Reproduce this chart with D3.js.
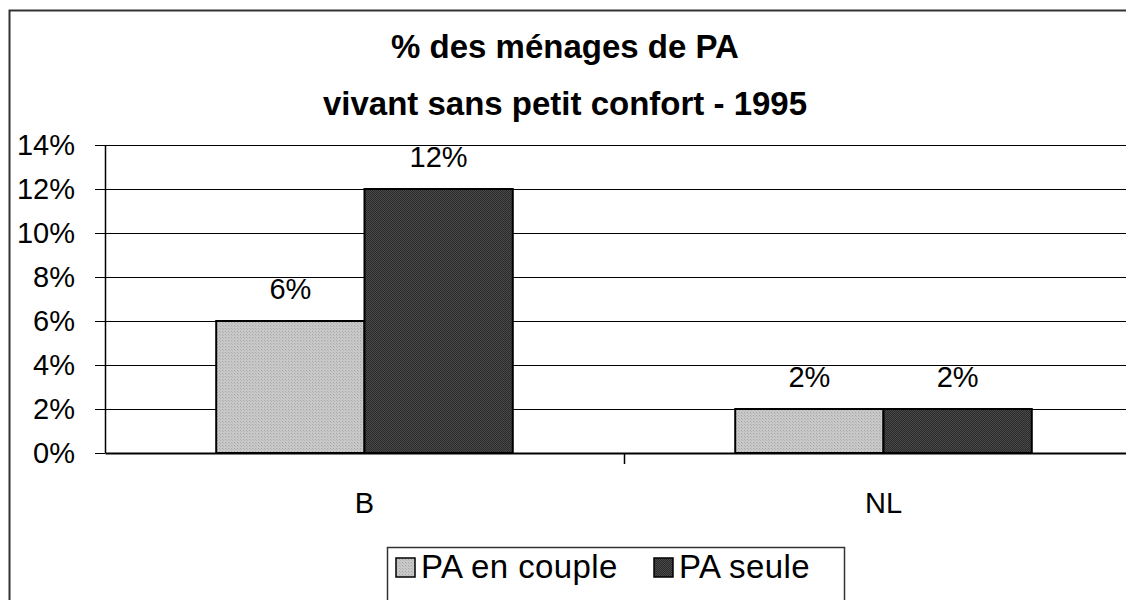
<!DOCTYPE html>
<html>
<head>
<meta charset="utf-8">
<script src="https://cdn.jsdelivr.net/npm/d3@7"></script>
<style>
  body { margin: 0; background: #fff; }
  text { font-family: Arial, "Liberation Sans", sans-serif; fill: #000; }
</style>
</head>
<body>
<div id="container"></div>
<script>
/* DATA */
const categories = ["B", "NL"];
const seriesNames = ["PA en couple", "PA seule"];
const coupleValues = [0.06, 0.02];
const seuleValues = [0.12, 0.02];
const yTicks = [0, 0.02, 0.04, 0.06, 0.08, 0.10, 0.12, 0.14];
const titleLines = ["% des ménages de PA", "vivant sans petit confort - 1995"];

/* CONSTANTS */
const width = 1126, height = 600,
      margin = {top: 145, bottom: 147, left: 105},
      plotWidth = 1038,
      innerHeight = height - margin.top - margin.bottom;
const FONT = "Arial, 'Liberation Sans', sans-serif";

const rows = categories.map((c, i) => ({cat: c, values: [coupleValues[i], seuleValues[i]]}));

const svg = d3.select("#container").append("svg")
  .attr("width", width).attr("height", height);

// patterns for the fills
const defs = svg.append("defs");
const pLight = defs.append("pattern").attr("id", "pLight")
  .attr("width", 3).attr("height", 3).attr("patternUnits", "userSpaceOnUse");
pLight.append("rect").attr("width", 3).attr("height", 3).attr("fill", "#c8c8c8");
pLight.append("rect").attr("x", 0).attr("y", 0).attr("width", 1).attr("height", 1).attr("fill", "#a8a8a8");
pLight.append("rect").attr("x", 1).attr("y", 1).attr("width", 1).attr("height", 1).attr("fill", "#b4b4b4");
const pDark = defs.append("pattern").attr("id", "pDark")
  .attr("width", 2).attr("height", 2).attr("patternUnits", "userSpaceOnUse");
pDark.append("rect").attr("width", 2).attr("height", 2).attr("fill", "#4a4a4a");
pDark.append("rect").attr("x", 0).attr("y", 0).attr("width", 1).attr("height", 1).attr("fill", "#2a2a2a");
pDark.append("rect").attr("x", 1).attr("y", 1).attr("width", 1).attr("height", 1).attr("fill", "#2a2a2a");
const fills = ["url(#pLight)", "url(#pDark)"];

// outer chart border (runs past right / bottom edge)
svg.append("rect")
  .attr("x", 9.5).attr("y", 10.5)
  .attr("width", width + 20).attr("height", height + 20)
  .attr("fill", "none").attr("stroke", "#333").attr("stroke-width", 2);

// title
svg.append("text")
  .attr("text-anchor", "middle")
  .attr("font-size", "33px").attr("font-weight", "bold")
  .selectAll("tspan").data(titleLines).join("tspan")
    .attr("x", 565).attr("y", (d, i) => 58 + i * 57)
    .text(d => d);

/* SCALES */
const xScale = d3.scaleBand()
  .domain(categories)
  .range([0, plotWidth]);

const xSub = d3.scaleBand()
  .domain([0, 1])
  .range([0, xScale.bandwidth()])
  .paddingInner(0).paddingOuter(0.75);

const yScale = d3.scaleLinear()
  .domain([0, 0.14])
  .range([innerHeight, 0]);

const g = svg.append("g").attr("transform", `translate(${margin.left},${margin.top})`);

// gridlines
g.append("g").selectAll("line").data(yTicks.slice(1)).join("line")
  .attr("x1", 0).attr("x2", plotWidth)
  .attr("y1", d => Math.round(yScale(d)) + 0.5).attr("y2", d => Math.round(yScale(d)) + 0.5)
  .attr("stroke", "#000").attr("stroke-width", 1);

// y axis
const yAxis = g.append("g")
  .call(d3.axisLeft(yScale).tickValues(yTicks).tickFormat(d3.format(".0%"))
    .tickSize(10).tickPadding(20).tickSizeOuter(0));
yAxis.select(".domain").attr("stroke", "#000").attr("stroke-width", 1.5);
yAxis.selectAll(".tick line").attr("stroke", "#000");
yAxis.selectAll(".tick text").attr("font-size", "29px").attr("font-family", FONT);

// bars
const groups = g.selectAll("g.cat").data(rows).join("g")
  .attr("class", "cat")
  .attr("transform", d => `translate(${xScale(d.cat)},0)`);

groups.selectAll("rect").data(d => d.values).join("rect")
  .attr("x", (d, i) => xSub(i))
  .attr("y", d => yScale(d))
  .attr("width", xSub.bandwidth())
  .attr("height", d => yScale(0) - yScale(d))
  .attr("fill", (d, i) => fills[i])
  .attr("stroke", "#000").attr("stroke-width", 2);

groups.selectAll("text.bar-label").data(d => d.values).join("text")
  .attr("class", "bar-label")
  .attr("x", (d, i) => xSub(i) + xSub.bandwidth() / 2)
  .attr("y", d => yScale(d) - 22)
  .attr("text-anchor", "middle")
  .attr("font-size", "29px")
  .text(d => d3.format(".0%")(d));

// x axis
const xAxis = g.append("g")
  .attr("transform", `translate(0,${innerHeight})`)
  .call(d3.axisBottom(xScale).tickSize(0).tickPadding(39).tickSizeOuter(0));
xAxis.select(".domain").attr("stroke", "#000").attr("stroke-width", 2);
xAxis.selectAll(".tick text").attr("font-size", "29px").attr("font-family", FONT);
xAxis.selectAll("line.sep").data(categories.slice(1)).join("line")
  .attr("class", "sep")
  .attr("x1", d => xScale(d) + 0.5).attr("x2", d => xScale(d) + 0.5)
  .attr("y1", 0).attr("y2", 11)
  .attr("stroke", "#000").attr("stroke-width", 1.5);

// legend
const legend = svg.append("g").attr("transform", "translate(387,547)");
legend.append("rect")
  .attr("x", 0.5).attr("y", 0.5).attr("width", 457).attr("height", 70)
  .attr("fill", "#fff").attr("stroke", "#333").attr("stroke-width", 1.5);
const legendX = [9, 267];
const items = legend.selectAll("g.item").data(seriesNames).join("g")
  .attr("class", "item")
  .attr("transform", (d, i) => `translate(${legendX[i]},0)`);
items.append("rect")
  .attr("x", 0).attr("y", 11).attr("width", 19).attr("height", 19)
  .attr("fill", (d, i) => fills[i]).attr("stroke", "#000").attr("stroke-width", 1.5);
items.append("text")
  .attr("x", 25).attr("y", 31)
  .attr("font-size", "33px").attr("letter-spacing", "0.4px")
  .text(d => d);
</script>
</body>
</html>
